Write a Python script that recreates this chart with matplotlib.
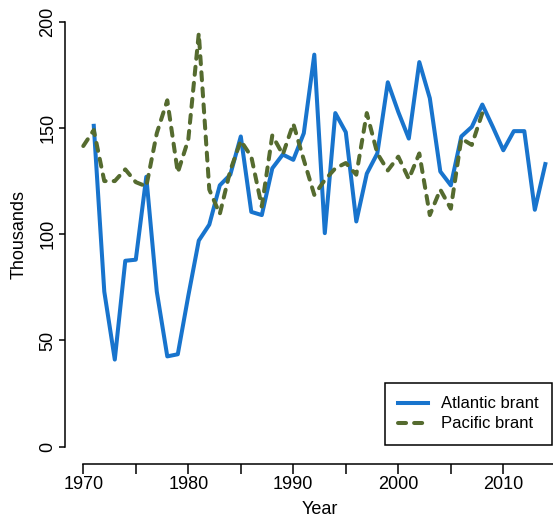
import matplotlib
matplotlib.use("Agg")
import matplotlib.pyplot as plt
from matplotlib.ticker import MultipleLocator

plt.rcParams['font.family'] = ['Liberation Sans', 'DejaVu Sans']

atlantic_years = list(range(1971, 2015))
atlantic = [151, 73, 41, 87.5, 88, 127, 73, 42.5, 43.5, 71,
            97, 104.5, 123, 128, 146, 110.5, 109, 131, 137.5, 135,
            147.5, 184.5, 100.5, 157, 148, 106, 128.5, 138, 171.5, 157.5,
            145, 181, 164, 129.5, 123, 146, 150.5, 161, 150.5, 139.5,
            148.5, 148.5, 111.5, 133]

pacific_years = list(range(1970, 2009))
pacific = [141.5, 149, 125, 125, 130.5, 124.5, 122.5, 147.5, 163, 129,
           144.5, 194.5, 121, 109.5, 130, 144, 136.5, 113, 146.5, 137.5,
           152, 135, 118.5, 125.5, 131, 133.5, 128, 157, 138, 130,
           136.5, 126, 138, 109, 121, 112, 145, 142, 157]

yticks = [0, 50, 100, 150, 200]

fig = plt.figure(figsize=(5.53, 5.16), dpi=100)
ax = fig.add_axes([64.8 / 553, 52.3 / 516, 499 / 553, 459 / 516])

ax.plot(atlantic_years, atlantic, color='#1874CD', lw=2.9,
        solid_joinstyle='round', label='Atlantic brant')
ax.plot(pacific_years, pacific, color='#556B2F', lw=2.9, ls=(0, (2.0, 2.0)),
        dash_capstyle='round', dash_joinstyle='round', label='Pacific brant')

ax.set_xlim(1968.24, 2015.76)
ax.set_ylim(-8, 208)

ax.spines['top'].set_visible(False)
ax.spines['right'].set_visible(False)
ax.spines['left'].set_bounds(0, 200)
ax.spines['bottom'].set_bounds(1970, 2015)
for s in ['left', 'bottom']:
    ax.spines[s].set_linewidth(1.1)

ax.set_yticks(yticks)
ax.xaxis.set_major_locator(MultipleLocator(10))
ax.xaxis.set_minor_locator(MultipleLocator(5))
ax.tick_params(axis='x', which='both', length=7, width=1.1, pad=1.5, labelsize=13)
ax.tick_params(axis='y', length=4.5, width=1.1, pad=1.5, labelsize=13, labelrotation=90)
for lab in ax.get_yticklabels():
    lab.set_va('center')

fig.text(320 / 553, 1 - 509 / 516, 'Year', ha='center', va='center', fontsize=13)
fig.text(19 / 553, 1 - 235 / 516, 'Thousands', ha='center', va='center',
         rotation=90, fontsize=13)

leg = ax.legend(loc='upper left', bbox_to_anchor=(385 / 553, 1 - 383 / 516),
                bbox_transform=fig.transFigure, borderaxespad=0, fontsize=12,
                fancybox=False, framealpha=1, edgecolor='black',
                handlelength=1.8, handletextpad=0.75, borderpad=0.8,
                labelspacing=0.3)
leg.get_frame().set_linewidth(1.1)

fig.savefig('out.png', dpi=100)
